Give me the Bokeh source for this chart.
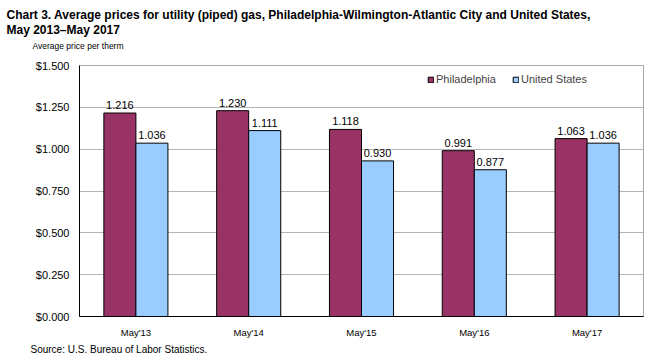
from bokeh.plotting import figure
from bokeh.models import (ColumnDataSource, FactorRange, Range1d, NumeralTickFormatter,
                          FixedTicker, Title, Legend, LegendItem)
from bokeh.transform import dodge
from bokeh.core.properties import value
from bokeh.embed import file_html
from bokeh.resources import INLINE

categories = ["May'13", "May'14", "May'15", "May'16", "May'17"]
philadelphia = [1.216, 1.230, 1.118, 0.991, 1.063]
united_states = [1.036, 1.111, 0.930, 0.877, 1.036]
y_ticks = [0.0, 0.25, 0.5, 0.75, 1.0, 1.25, 1.5]

FONT = "'Liberation Sans', Arial, sans-serif"

src = ColumnDataSource(dict(
    cat=categories,
    phl=philadelphia,
    us=united_states,
    phl_t=[f"{v:.3f}" for v in philadelphia],
    us_t=[f"{v:.3f}" for v in united_states],
))

W, H = 652, 360
p = figure(width=W, height=H, x_range=FactorRange(factors=categories, range_padding=0),
           y_range=Range1d(0, 1.5), output_backend="svg", toolbar_location=None,
           min_border_left=79, min_border_right=9, min_border_top=65, min_border_bottom=44)

p.outline_line_color = "#a8a8a8"
p.background_fill_color = "white"
p.border_fill_color = "white"

bw = 0.284
r1 = p.vbar(x=dodge("cat", -bw / 2, range=p.x_range), top="phl", width=bw, source=src,
            fill_color="#993366", line_color="black", line_width=1)
r2 = p.vbar(x=dodge("cat", bw / 2, range=p.x_range), top="us", width=bw, source=src,
            fill_color="#99ccff", line_color="black", line_width=1)

p.text(x=dodge("cat", -bw / 2, range=p.x_range), y="phl", text="phl_t", source=src,
       text_align="center", text_baseline="bottom", y_offset=-4,
       text_font=value(FONT), text_font_size="11px", text_color="black")
p.text(x=dodge("cat", bw / 2, range=p.x_range), y="us", text="us_t", source=src,
       text_align="center", text_baseline="bottom", y_offset=-4,
       text_font=value(FONT), text_font_size="11px", text_color="black")

# axes
p.yaxis.ticker = FixedTicker(ticks=y_ticks)
p.yaxis.formatter = NumeralTickFormatter(format="$0.000")
for ax in (p.xaxis[0], p.yaxis[0]):
    ax.axis_line_color = "black"
    ax.axis_line_width = 1
    ax.major_tick_line_color = None
    ax.minor_tick_line_color = None
    ax.major_tick_out = 0
    ax.major_tick_in = 0
    ax.major_label_text_font = FONT
    ax.major_label_text_color = "black"
p.yaxis.major_label_text_font_size = "11px"
p.xaxis.major_label_text_font_size = "9.5px"
p.yaxis.major_label_standoff = 10
p.xaxis.major_label_standoff = 10
p.xgrid.grid_line_color = None
p.ygrid.grid_line_color = "#b4b4b4"
p.ygrid.grid_line_width = 1

legend = Legend(items=[LegendItem(label="Philadelphia", renderers=[r1]),
                       LegendItem(label="United States", renderers=[r2])],
                orientation="horizontal", location=(348, 231),
                glyph_width=7, glyph_height=7, label_height=12, label_standoff=2,
                spacing=16, padding=0, margin=0,
                label_text_font=FONT, label_text_font_size="11px",
                border_line_color=None, background_fill_alpha=0)
p.add_layout(legend, "center")

# titles: first added to "above" sits closest to the frame
spacer = Title(text=" ", align="left", standoff=11, text_font=FONT, text_font_size="1px")
t_avg = Title(text="Average price per therm", align="left", offset=-47, standoff=1,
              text_font=FONT, text_font_size="8.5px", text_font_style="normal",
              text_color="black")
t_main = Title(text="Chart 3. Average prices for utility (piped) gas, Philadelphia-Wilmington-Atlantic City and United States,\nMay 2013\u2013May 2017",
               align="left", offset=-73, standoff=3,
               text_font=FONT, text_font_size="12px", text_font_style="bold",
               text_line_height=1.083, text_color="black")
p.add_layout(spacer, "above")
p.add_layout(t_avg, "above")
p.add_layout(t_main, "above")

src_title = Title(text="Source: U.S. Bureau of Labor Statistics.", align="left", offset=-49,
                  standoff=2, text_font=FONT, text_font_size="10px",
                  text_font_style="normal", text_color="black")
p.add_layout(src_title, "below")

open("out.html", "w").write(file_html(p, INLINE))
